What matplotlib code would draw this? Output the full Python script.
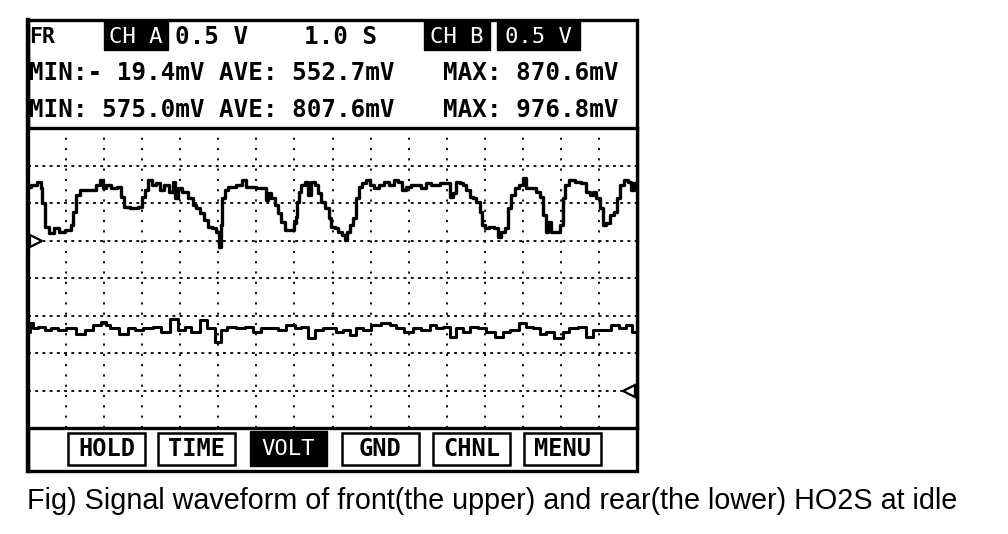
import matplotlib
matplotlib.use("Agg")
import matplotlib.pyplot as plt
from matplotlib.patches import Rectangle

# ---- data (time in s, level in mV) ----
front_t = [0.00, 0.18, 0.31, 0.35, 0.39, 0.48, 0.61, 0.74, 0.87, 1.10, 1.14, 1.23, 1.31, 1.40,
           1.75, 1.84, 1.93, 2.02, 2.10, 2.28, 2.41, 2.50, 2.54, 2.80, 2.98, 3.02, 3.11, 3.20,
           3.33, 3.42, 3.50, 3.63, 3.77, 3.85, 3.90, 3.99, 4.12, 4.29, 4.38, 4.47, 4.55, 4.68,
           4.77, 4.91, 4.99, 5.04, 5.08, 5.12, 5.21, 5.30, 5.39, 5.56, 5.69, 5.78, 6.22, 6.26,
           6.35, 6.44, 6.52, 6.61, 6.70, 6.79, 6.96, 7.01, 7.05, 7.09, 7.14, 7.23, 7.31, 7.40,
           7.49, 7.57, 7.66, 7.75, 7.88, 7.93, 8.01, 8.10, 8.19, 8.32, 8.36, 8.41, 8.49, 8.58,
           8.67, 8.72, 8.85, 8.93, 9.02, 9.15, 9.28, 9.41, 9.55, 9.68, 9.77, 9.90, 9.98, 10.12,
           10.29, 10.38, 10.51, 10.64, 10.77, 10.90, 11.04, 11.12, 11.21, 11.30, 11.38, 11.47,
           11.56, 11.65, 11.74, 11.82, 11.91, 11.95, 12.04, 12.17, 12.30, 12.39, 12.48, 12.57,
           12.66, 12.74, 12.83, 12.96, 13.05, 13.14, 13.27, 13.40, 13.49, 13.58, 13.62, 13.71,
           13.79, 13.93, 14.01, 14.10, 14.14, 14.27, 14.45, 14.63, 14.71, 14.80, 14.89, 14.98,
           15.06, 15.15, 15.24, 15.33, 15.46, 15.50, 15.59, 15.72, 15.81, 15.90, 15.94]
front_mv = [715, 740, 785, 695, 495, 185, 95, 165, 115, 140, 205, 385, 605, 675,
            675, 740, 805, 695, 740, 695, 715, 585, 450, 430, 450, 585, 675, 805,
            740, 765, 675, 740, 650, 785, 565, 695, 650, 565, 475, 430, 365, 275,
            185, 165, 115, -85, 205, 565, 675, 715, 715, 740, 805, 715, 695, 540,
            630, 565, 475, 365, 250, 140, 140, 230, 315, 515, 650, 740, 785, 605,
            785, 740, 630, 515, 430, 295, 185, 165, 115, 75, 5, 115, 205, 295,
            565, 715, 765, 805, 740, 695, 740, 785, 740, 805, 785, 675, 715, 740,
            740, 695, 765, 740, 740, 765, 765, 585, 630, 785, 765, 740,
            675, 585, 565, 515, 385, 205, 165, 185, 165, 50, 115, 165,
            430, 605, 695, 740, 830, 695, 695, 650, 585, 340, 115, 250,
            115, 115, 205, 565, 740, 805, 785, 765, 650, 605, 650, 565,
            430, 205, 230, 340, 385, 565, 740, 805, 785, 675, 765]

rear_t = [0.00, 0.09, 0.18, 0.35, 0.53, 0.70, 0.88, 1.14, 1.40, 1.58, 1.84, 2.01, 2.10, 2.23,
          2.54, 2.71, 2.89, 3.15, 3.42, 3.59, 3.85, 4.03, 4.20, 4.38, 4.64, 4.77, 5.04, 5.12,
          5.34, 5.60, 5.78, 6.04, 6.22, 6.48, 6.65, 6.92, 7.09, 7.27, 7.44, 7.62, 7.88, 8.01,
          8.19, 8.36, 8.54, 8.71, 8.89, 9.15, 9.41, 9.59, 9.76, 10.02, 10.20, 10.46, 10.64,
          10.81, 10.99, 11.16, 11.34, 11.51, 11.69, 11.95, 12.13, 12.39, 12.56, 12.78, 13.00,
          13.18, 13.35, 13.53, 13.70, 13.96, 14.14, 14.31, 14.58, 14.75, 14.93, 15.19, 15.45,
          15.63, 15.80, 15.93]
rear_mv = [785, 895, 830, 850, 805, 830, 805, 830, 760, 805, 875, 920, 875, 830,
           760, 830, 805, 830, 850, 785, 960, 805, 850, 785, 940, 830, 650, 805,
           850, 830, 850, 785, 830, 830, 805, 875, 830, 850, 695, 805, 830, 830,
           785, 805, 740, 830, 805, 875, 895, 875, 830, 785, 830, 805, 875,
           830, 850, 720, 830, 785, 850, 830, 785, 720, 785, 805, 895,
           850, 830, 760, 785, 695, 785, 830, 850, 720, 805, 805, 875,
           830, 875, 785]

# scope settings
volts_per_div = 0.5
front_zero_div = 5     # channel A ground marker
rear_zero_div = 1      # channel B ground marker
n_xdiv, n_ydiv = 16, 8

header_top = ["FR", "CH A", "0.5 V", "1.0 S", "CH B", "0.5 V"]
stats_front = ["MIN:- 19.4mV", "AVE: 552.7mV", "MAX: 870.6mV"]
stats_rear = ["MIN: 575.0mV", "AVE: 807.6mV", "MAX: 976.8mV"]
buttons = ["HOLD", "TIME", "VOLT", "GND", "CHNL", "MENU"]
active_button = "VOLT"
caption = "Fig) Signal waveform of front(the upper) and rear(the lower) HO2S at idle"

W, H = 1008, 534
fig = plt.figure(figsize=(W / 100, H / 100), dpi=100)
fig.patch.set_facecolor("white")

# decoration layer in pixel units (screen frame, header, buttons, caption)
deco = fig.add_axes([0, 0, 1, 1])
deco.set_xlim(0, W); deco.set_ylim(H, 0)
deco.axis("off")

mono = "DejaVu Sans Mono"

# screen frame
deco.add_patch(Rectangle((28, 20), 609, 451, fill=False, lw=2.4, ec="black"))
deco.plot([28, 28], [20, 471], color="black", lw=3.2)

# header row 1
deco.text(29, 37, header_top[0], fontsize=15.5, fontweight="bold", family=mono, va="center")
for (x0, x1), lab in [((104, 168), header_top[1]), ((424, 490), header_top[4]),
                      ((497, 580), header_top[5])]:
    deco.add_patch(Rectangle((x0, 21), x1 - x0, 29, color="black"))
    deco.text((x0 + x1) / 2, 37, lab, fontsize=16, color="white", family=mono,
              ha="center", va="center")
deco.text(175, 37, header_top[2], fontsize=17.5, fontweight="bold", family=mono, va="center")
deco.text(304, 37, header_top[3], fontsize=17.5, fontweight="bold", family=mono, va="center")

# header rows 2-3
for yrow, row in [(73, stats_front), (110, stats_rear)]:
    for xcol, s in zip([29, 219, 443], row):
        deco.text(xcol, yrow, s, fontsize=17.5, fontweight="bold", family=mono, va="center")

# soft-key buttons
for left, lab in zip([68, 158, 250, 342, 433, 524], buttons):
    if lab == active_button:
        deco.add_patch(Rectangle((left, 431), 77, 35, color="black"))
        deco.text(left + 38.5, 449, lab, fontsize=16, color="white", family=mono,
                  ha="center", va="center")
    else:
        deco.add_patch(Rectangle((left, 433), 77, 32, fill=False, ec="black", lw=1.8))
        deco.text(left + 38.5, 449, lab, fontsize=17, fontweight="bold", family=mono,
                  ha="center", va="center")

deco.text(27, 501, caption, fontsize=20.7, family="Liberation Sans", va="center")

# waveform area
ax = fig.add_axes([28 / W, 1 - 428 / H, 609 / W, 300 / H])
ax.set_xlim(0, n_xdiv)
ax.set_ylim(0, n_ydiv)
ax.set_xticks(range(1, n_xdiv))
ax.set_yticks(range(1, n_ydiv))
ax.tick_params(length=0, labelbottom=False, labelleft=False)
ax.xaxis.grid(True, color="black", lw=1.3, ls=(0, (1.2, 4.5)))
ax.yaxis.grid(True, color="black", lw=1.3, ls=(0, (1.6, 2.4)))
for s in ax.spines.values():
    s.set_linewidth(2.4)

front_div = [front_zero_div + v / 1000 / volts_per_div for v in front_mv]
rear_div = [rear_zero_div + v / 1000 / volts_per_div for v in rear_mv]
ax.plot(front_t, front_div, color="black", lw=2.4, drawstyle="steps-mid")
ax.plot(rear_t, rear_div, color="black", lw=2.2, drawstyle="steps-mid")

# channel ground markers
ax.plot([0.2], [front_zero_div], marker=">", ms=9, mfc="white", mec="black", mew=1.6,
        clip_on=False)
ax.plot([15.8], [rear_zero_div], marker="<", ms=9, mfc="white", mec="black", mew=1.6,
        clip_on=False)

fig.savefig("out.png", dpi=100, facecolor="white")
